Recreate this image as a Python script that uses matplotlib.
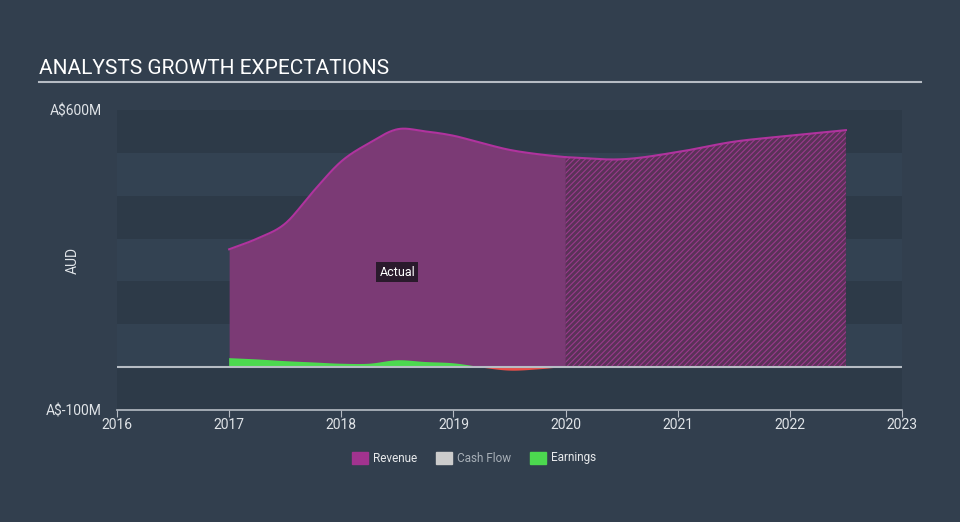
import numpy as np
import matplotlib.pyplot as plt
import matplotlib as mpl

plt.rcParams['font.family'] = ['Roboto', 'DejaVu Sans']
mpl.rcParams['hatch.linewidth'] = 0.8

# revenue, A$ millions (actual to 2020.0, forecast after)
rev_x = [2017.0, 2017.25, 2017.5, 2017.75, 2018.0, 2018.25, 2018.5, 2018.75,
         2019.0, 2019.25, 2019.5, 2019.75, 2020.0]
rev_y = [275, 300, 335, 410, 480, 523, 555, 550, 540, 523, 507, 497, 490]
fc_x = [2020.0, 2020.5, 2021.0, 2021.5, 2022.0, 2022.5]
fc_y = [490, 485, 502, 526, 540, 553]

# earnings, A$ millions
earn_x = [2017.0, 2017.25, 2017.5, 2017.75, 2018.0, 2018.25, 2018.5, 2018.75,
          2019.0, 2019.25, 2019.5, 2019.75, 2020.0]
earn_y = [21, 18, 14, 11, 8, 8, 16, 12, 9, 0, -7, -4, 2]

xticks = [2016, 2017, 2018, 2019, 2020, 2021, 2022, 2023]

bg = '#323f4e'
fig = plt.figure(figsize=(9.6, 5.22), dpi=100, facecolor=bg)
ax = fig.add_axes([117 / 960, 1 - 410 / 522, 785 / 960, 300 / 522])
ax.set_facecolor(bg)

# horizontal bands
for lo in range(-100, 600, 100):
    c = '#2d3a48' if ((lo + 100) // 100) % 2 == 0 else '#334252'
    ax.axhspan(lo, lo + 100, color=c, zorder=0, lw=0)


def smooth(xs, ys, n=300):
    xs = np.asarray(xs, float)
    ys = np.asarray(ys, float)
    xx = np.linspace(xs[0], xs[-1], n)
    # cubic hermite smoothing through the points
    m = np.gradient(ys, xs)
    out = np.empty_like(xx)
    for i, x in enumerate(xx):
        k = min(np.searchsorted(xs, x, side='right') - 1, len(xs) - 2)
        h = xs[k + 1] - xs[k]
        t = (x - xs[k]) / h
        h00 = 2 * t**3 - 3 * t**2 + 1
        h10 = t**3 - 2 * t**2 + t
        h01 = -2 * t**3 + 3 * t**2
        h11 = t**3 - t**2
        out[i] = h00 * ys[k] + h10 * h * m[k] + h01 * ys[k + 1] + h11 * h * m[k + 1]
    return xx, out


purple_fill = '#7b3a75'
purple_line = '#b0339e'

rx, ry = smooth(rev_x, rev_y)
ax.fill_between(rx, 0, ry, color=purple_fill, lw=0, zorder=2)
ax.plot(rx, ry, color=purple_line, lw=1.5, zorder=3)

fx, fy = smooth(fc_x, fc_y)
ax.fill_between(fx, 0, fy, facecolor='#5a3258', edgecolor='#9a3a8c',
                hatch='//////', lw=0, zorder=2)
ax.plot(fx, fy, color=purple_line, lw=1.5, zorder=3)

ex, ey = smooth(earn_x, earn_y)
ax.fill_between(ex, 0, ey, where=ey >= 0, color='#4cd94f', lw=0, zorder=4, interpolate=True)
ax.fill_between(ex, 0, ey, where=ey < 0, color='#e8504a', lw=0, zorder=4, interpolate=True)

ax.axhline(0, color='#b6bcc4', lw=1.5, zorder=5)

ax.text(2018.5, 222, 'Actual', color='white', fontsize=9, ha='center', va='center',
        zorder=6, bbox=dict(boxstyle='square,pad=0.25', fc='#2a1a2c', ec='none'))

ax.set_xlim(2016, 2023)
ax.set_ylim(-100, 600)
ax.set_xticks(xticks)
ax.set_xticklabels([str(t) for t in xticks], color='#e0e4e8', fontsize=10)
ax.tick_params(axis='x', length=5, color='#b6bcc4', pad=1)
ax.set_yticks([600, -100])
ax.set_yticklabels(['A$600M', 'A$-100M'], color='#e0e4e8', fontsize=10)
ax.tick_params(axis='y', length=0, pad=11)
for s in ['top', 'right', 'left']:
    ax.spines[s].set_visible(False)
ax.spines['bottom'].set_color('#b6bcc4')
ax.spines['bottom'].set_linewidth(1.2)
ax.set_ylabel('AUD', color='#e0e4e8', fontsize=10)
ax.yaxis.set_label_coords(-0.048, 0.5)

fig.text(39 / 960, 1 - 69 / 522, 'ANALYSTS GROWTH EXPECTATIONS', color='white',
         fontsize=15, va='center', ha='left')
fig.add_artist(plt.Line2D([39 / 960, 921 / 960], [1 - 82 / 522, 1 - 82 / 522],
                          color='#b6bcc4', lw=1.5))

# legend
items = [('Revenue', '#a2338f', 352), ('Cash Flow', '#cccccc', 436), ('Earnings', '#4cd94f', 530)]
for label, col, px in items:
    fig.add_artist(mpl.patches.Rectangle((px / 960, 1 - 464 / 522), 16 / 960, 12 / 522,
                                         color=col, transform=fig.transFigure))
    fig.text((px + 21) / 960, 1 - 458 / 522, label, fontsize=8.5, va='center',
             color='#e8eaec' if label != 'Cash Flow' else '#a8b0b8')

fig.savefig('out.png', dpi=100, facecolor=bg)
